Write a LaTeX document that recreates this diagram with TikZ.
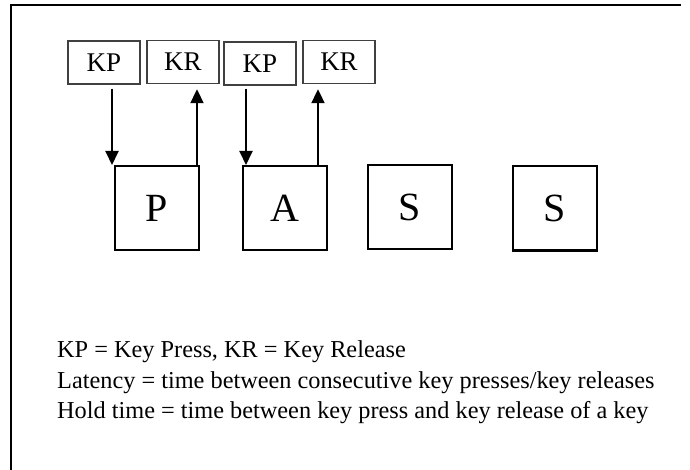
\documentclass[tikz,border=0pt]{standalone}
\usepackage{fontspec}
\setmainfont{Liberation Serif}
\usepackage{tikz}
\usetikzlibrary{arrows.meta}

\begin{document}
\begin{tikzpicture}[x=1pt,y=-1pt]
        \tikzset{keybox/.style = {draw=black!75, line width=1.4pt, minimum width=72pt,
                minimum height=43pt, inner sep=0pt, font=\fontsize{27}{29}\selectfont}}
        \tikzset{letter/.style = {draw, line width=2pt, minimum size=84pt,
                inner sep=0pt, font=\fontsize{40}{42}\selectfont}}
        \tikzset{arr/.style = {line width=2pt, -{Triangle[length=14pt,width=13pt]}}}
        \tikzset{legend/.style = {anchor=base west, inner sep=0pt,
                font=\fontsize{24.3}{26}\selectfont}}

        \useasboundingbox (0,0) rectangle (690,470);
        \draw[line width=2pt] (11,470) -- (11,5) -- (681,5);

        \node[keybox] (kp1) at (104, 62.5) {KP};
        \node[keybox] (kr1) at (183, 62) {KR};
        \node[keybox] (kp2) at (260, 63.5) {KP};
        \node[keybox] (kr2) at (339, 62) {KR};

        \node[letter] (p) at (157, 208) {P};
        \node[letter] (a) at (285, 208) {A};
        \node[letter] (s1) at (409.5, 207) {S};
        \node[letter] (s2) at (555, 208.5) {S};

        \draw[arr, shorten <=4pt] ([xshift=-2pt]kp1.south -| p.north west) -- ([xshift=-2pt]p.north west);
        \draw[arr, shorten >=5pt] ([xshift=-3pt]p.north east) -- ([xshift=-3pt]p.north east |- kr1.south);
        \draw[arr, shorten <=3pt] ([xshift=4pt]kp2.south -| a.north west) -- ([xshift=4pt]a.north west);
        \draw[arr, shorten >=5pt] ([xshift=-10pt]a.north east) -- ([xshift=-10pt]a.north east |- kr2.south);

        \node[legend] (l1) at (57, 357) {KP = Key Press, KR = Key Release};
        \node[legend] (l2) at (57, 388) {Latency = time between consecutive key presses/key releases};
        \node[legend] (l3) at (57, 418) {Hold time = time between key press and key release of a key};
    \end{tikzpicture}
\end{document}
